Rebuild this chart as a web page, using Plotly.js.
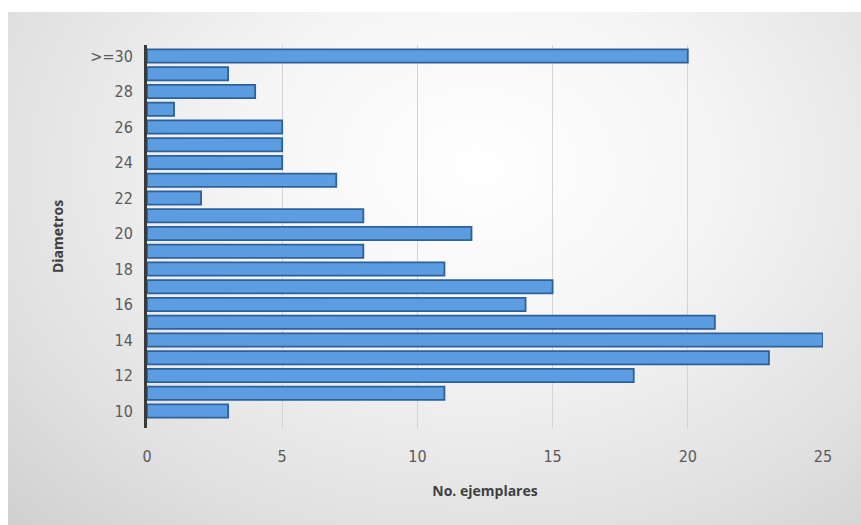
<!DOCTYPE html>
<html>
<head>
<meta charset="utf-8">
<script src="https://cdn.plot.ly/plotly-3.0.1.min.js"></script>
<style>
  html, body { margin: 0; padding: 0; background: #ffffff; }
  #frame {
    position: absolute; left: 8px; top: 12px; width: 853px; height: 513px;
    background: radial-gradient(ellipse at 55% 30%, #ffffff 0%, #f5f5f5 35%, #e0e0e0 75%, #d0d0d0 100%);
  }
  #chart { position: absolute; left: 0; top: 0; width: 861px; height: 525px; }
</style>
</head>
<body>
<div id="frame"></div>
<div id="chart"></div>
<script>
const categories = ['10','11','12','13','14','15','16','17','18','19','20','21','22','23','24','25','26','27','28','29','>=30'];
const counts = [3, 11, 18, 23, 25, 21, 14, 15, 11, 8, 12, 8, 2, 7, 5, 5, 5, 1, 4, 3, 20];
const yTickLabels = ['10','12','14','16','18','20','22','24','26','28','>=30'];
const xTickValues = [0, 5, 10, 15, 20, 25];

const trace = {
  type: 'bar',
  orientation: 'h',
  x: counts,
  y: categories,
  marker: { color: '#5b9de0', line: { color: '#2d6199', width: 1.8 } },
  width: 0.74,
  hoverinfo: 'x+y'
};

const layout = {
  width: 861, height: 525,
  margin: { l: 147, r: 38, t: 45, b: 97 },
  paper_bgcolor: 'rgba(0,0,0,0)',
  plot_bgcolor: 'rgba(0,0,0,0)',
  showlegend: false,
  font: { family: '"DejaVu Sans Condensed", "Liberation Sans", sans-serif', color: '#595959' },
  xaxis: {
    range: [0, 25],
    tickvals: xTickValues,
    ticktext: xTickValues.map(String),
    showgrid: true, gridcolor: '#d4d4d4', gridwidth: 1,
    zeroline: false, showline: false,
    ticks: 'outside', ticklen: 14, tickcolor: 'rgba(0,0,0,0)',
    tickfont: { size: 16, color: '#5a5a5a' },
    title: { text: 'No. ejemplares', standoff: 20, font: { family: '"Open Sans", "Noto Sans", sans-serif', size: 14, color: '#404040', weight: 'bold' } }
  },
  yaxis: {
    type: 'category',
    categoryorder: 'array', categoryarray: categories,
    range: [-0.96, 20.62],
    tickvals: yTickLabels,
    ticktext: yTickLabels,
    showgrid: false, zeroline: false,
    showline: true, linecolor: '#3a3a3a', linewidth: 3,
    ticks: 'outside', ticklen: 8, tickcolor: 'rgba(0,0,0,0)',
    tickfont: { size: 16, color: '#5a5a5a' },
    title: { text: 'Diametros', standoff: 24, font: { family: '"Open Sans", "Noto Sans", sans-serif', size: 14, color: '#404040', weight: 'bold' } }
  }
};

Plotly.newPlot('chart', [trace], layout, { displayModeBar: false, staticPlot: true });
</script>
</body>
</html>
